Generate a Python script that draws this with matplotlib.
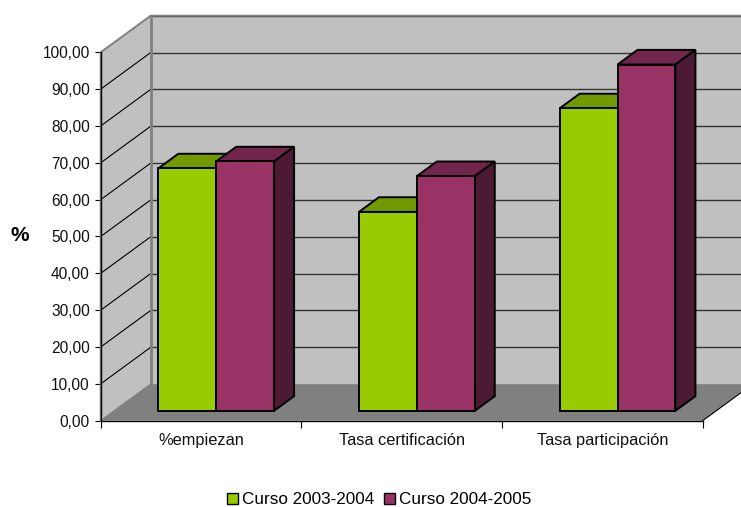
import matplotlib
matplotlib.use("Agg")
import matplotlib.pyplot as plt
from matplotlib.patches import Polygon, Patch

categories = ["%empiezan", "Tasa certificación", "Tasa participación"]
series_names = ["Curso 2003-2004", "Curso 2004-2005"]
curso_2003_2004 = [65.8, 54.0, 82.1]
curso_2004_2005 = [67.7, 63.7, 94.0]
y_ticks = list(range(0, 101, 10))
tick_labels = [f"{v},00" for v in y_ticks]

W, H = 741, 507
plt.rcParams["font.family"] = ["Liberation Sans", "DejaVu Sans"]
fig = plt.figure(figsize=(W / 100, H / 100), dpi=100, facecolor="white")
L, R, T, B = 100.7, 702.7, 52.3, 420.7
ax = fig.add_axes([L / W, 1 - B / H, (R - L) / W, (B - T) / H], facecolor="none")
ax.set_xlim(0, 3)
ax.set_ylim(0, 100)

# oblique depth projection, in data units (full depth of the plot box)
DX = 50 / ((R - L) / 3)
DY = 36.6 / ((B - T) / 100)


def P(x, y, d):
    return (x + DX * d, y + DY * d)


def poly(points, fc, ec="none", lw=0, z=1, **kw):
    ax.add_patch(Polygon(points, closed=True, facecolor=fc, edgecolor=ec, linewidth=lw,
                         clip_on=False, zorder=z, joinstyle="miter", **kw))


WALL, FLOOR = "#C0C0C0", "#808080"
poly([P(0, 0, 1), P(3.4, 0, 1), P(3.4, 100, 1), P(0, 100, 1)], WALL, z=1)
poly([P(0, 0, 0), P(0, 0, 1), P(0, 100, 1), P(0, 100, 0)], WALL, z=1)
poly([P(0, 0, 0), P(3, 0, 0), P(3, 0, 1), P(3.4, 0, 1), P(0, 0, 1)], FLOOR, z=2)
for v in y_ticks[1:]:
    if v < 100:
        ax.plot(*zip(P(0, v, 0), P(0, v, 1)), color="black", lw=0.8, clip_on=False, zorder=3)
    ax.plot(*zip(P(0, v, 1), P(3.4, v, 1)), color="#333333", lw=1.0, clip_on=False, zorder=3)
ax.plot(*zip(P(0, 0, 0), P(0, 100, 0), P(0, 100, 1), P(3.4, 100, 1)), color="#808080",
        lw=1.4, clip_on=False, zorder=3)
ax.plot(*zip(P(0, 0, 1), P(0, 100, 1)), color="#808080", lw=2.0, clip_on=False, zorder=3)
ax.plot(*zip(P(0, 0, 0), P(0, 0, 1)), color="#808080", lw=1.0, clip_on=False, zorder=3)
ax.plot(*zip(P(3, 0, 0), P(3, 0, 1), P(3.4, 0, 1)), color="black", lw=0.8, clip_on=False, zorder=3)

COLORS = [("#99CC00", "#739900", "#4D6600"), ("#993366", "#73264D", "#4D1A33")]
BAR_W = 0.2885
OFFSET = 0.2198
D0, D1 = 0.27, 0.67
z = 5
for i in range(len(categories)):
    for j, values in enumerate([curso_2003_2004, curso_2004_2005]):
        x0 = i + OFFSET + j * BAR_W
        x1 = x0 + BAR_W
        v = values[i]
        front, top, side = COLORS[j]
        kw = dict(ec="black", lw=1.4, z=z)
        poly([P(x0, v, D0), P(x1, v, D0), P(x1, v, D1), P(x0, v, D1)], top, **kw)
        poly([P(x1, 0, D0), P(x1, v, D0), P(x1, v, D1), P(x1, 0, D1)], side, **kw)
        poly([P(x0, 0, D0), P(x1, 0, D0), P(x1, v, D0), P(x0, v, D0)], front, **kw)
        z += 1

for s in ("top", "right"):
    ax.spines[s].set_visible(False)
for s in ("left", "bottom"):
    ax.spines[s].set_linewidth(1.0)
    ax.spines[s].set_zorder(4)
ax.set_yticks(y_ticks, tick_labels, fontsize=11.2, color="#111111")
ax.tick_params(axis="y", length=4.3, width=0.8, pad=3.5)
ax.set_xticks(range(4), [""] * 4)
ax.tick_params(axis="x", which="major", length=5, width=0.8)
ax.set_xticks([i + 0.5 for i in range(3)], categories, minor=True, fontsize=11.8, color="#111111")
ax.tick_params(axis="x", which="minor", length=0, pad=9)

ax.text(20 / W, 1 - 236 / H, "%", transform=fig.transFigure, fontsize=15, fontweight="bold",
        ha="center", va="center")

handles = [Patch(facecolor=COLORS[k][0], edgecolor="black", linewidth=1.0) for k in range(2)]
fig.legend(handles, series_names, ncol=2, loc="center", bbox_to_anchor=(379 / W, 1 - 500 / H),
           frameon=False, fontsize=12.3, handlelength=0.65, handleheight=0.65, handletextpad=0.25,
           columnspacing=0.55, borderpad=0, borderaxespad=0)

fig.savefig("out.png", dpi=100, facecolor="white")
